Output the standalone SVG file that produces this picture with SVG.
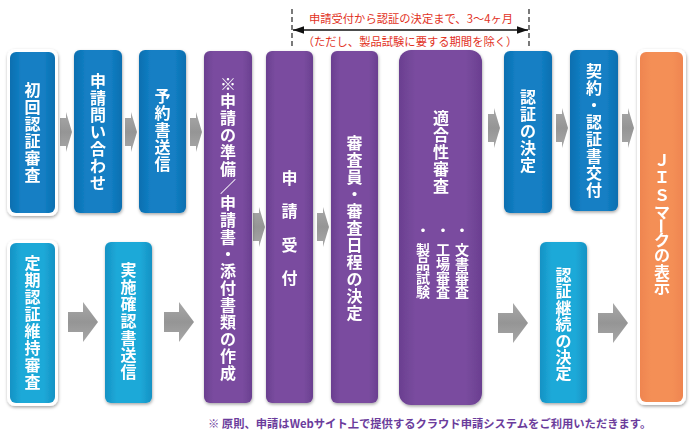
<svg xmlns="http://www.w3.org/2000/svg" width="700" height="438" viewBox="0 0 700 438">
<defs>
<style>
.t{font-family:"Noto Sans CJK JP","Noto Sans",sans-serif;font-weight:bold;fill:#fff;font-size:16px;text-anchor:middle}
.s{font-family:"Noto Sans CJK JP","Noto Sans",sans-serif;font-weight:bold;fill:#fff;font-size:14px;text-anchor:middle}
.red{font-family:"Noto Sans CJK JP","Noto Sans",sans-serif;fill:#e2321e;font-size:11.3px;text-anchor:middle}
.note{font-family:"Noto Sans CJK JP","Noto Sans",sans-serif;font-weight:bold;fill:#6b3c9c;font-size:11.3px}
.arr{fill:url(#ga)}
.dash{stroke:#222;stroke-width:1.2;stroke-dasharray:5,3;fill:none}
</style>
<linearGradient id="gb" x1="0" y1="0" x2="1" y2="0"><stop offset="0" stop-color="#0b6fb0"/><stop offset="0.25" stop-color="#137fc4"/><stop offset="0.75" stop-color="#137fc4"/><stop offset="1" stop-color="#0b6fb0"/></linearGradient>
<linearGradient id="gc" x1="0" y1="0" x2="1" y2="0"><stop offset="0" stop-color="#1492c4"/><stop offset="0.25" stop-color="#1ea9d8"/><stop offset="0.75" stop-color="#1ea9d8"/><stop offset="1" stop-color="#1492c4"/></linearGradient>
<linearGradient id="gp" x1="0" y1="0" x2="1" y2="0"><stop offset="0" stop-color="#6a3f90"/><stop offset="0.2" stop-color="#7a4c9f"/><stop offset="0.8" stop-color="#7a4c9f"/><stop offset="1" stop-color="#6a3f90"/></linearGradient>
<linearGradient id="go" x1="0" y1="0" x2="1" y2="0"><stop offset="0" stop-color="#ef8550"/><stop offset="0.25" stop-color="#f48f56"/><stop offset="0.75" stop-color="#f48f56"/><stop offset="1" stop-color="#ef8550"/></linearGradient>
<linearGradient id="ga" x1="0" y1="0" x2="0" y2="1"><stop offset="0" stop-color="#a8a8a8"/><stop offset="0.5" stop-color="#959595"/><stop offset="1" stop-color="#a8a8a8"/></linearGradient>
<filter id="sh" x="-20%" y="-10%" width="140%" height="120%"><feDropShadow dx="0.5" dy="1.5" stdDeviation="1.5" flood-color="#000" flood-opacity="0.35"/></filter>
<path id="sa" d="M0,6 H6 V0 L12,20 L6,40 V34 H0 Z"/>
<path id="la" d="M0,10 H15 V0 L30,20 L15,40 V30 H0 Z"/>
<marker id="ah" viewBox="0 0 10 10" refX="10" refY="5" markerWidth="7" markerHeight="7" orient="auto-start-reverse"><path d="M0,1.5 L10,5 L0,8.5 Z" fill="#111"/></marker>
</defs>
<rect width="700" height="438" fill="#fff"/>

<g id="connectors">
<use href="#sa" class="arr" x="60" y="112"/>
<use href="#sa" class="arr" x="125" y="112"/>
<use href="#sa" class="arr" x="190" y="112"/>
<use href="#sa" class="arr" x="253" y="207"/>
<use href="#sa" class="arr" x="317" y="207"/>
<use href="#sa" class="arr" x="488" y="108"/>
<use href="#sa" class="arr" x="556" y="108"/>
<use href="#sa" class="arr" x="622" y="108"/>
<use href="#la" class="arr" x="68" y="302"/>
<use href="#la" class="arr" x="164" y="302"/>
<use href="#la" class="arr" x="498" y="303"/>
<use href="#la" class="arr" x="598" y="303"/>
</g>

<g id="period">
<line class="dash" x1="292" y1="9" x2="292" y2="46"/>
<line class="dash" x1="529" y1="9" x2="529" y2="46"/>
<line x1="293" y1="30" x2="528" y2="30" stroke="#111" stroke-width="1.6" marker-start="url(#ah)" marker-end="url(#ah)"/>
<text class="red" x="411" y="23">申請受付から認証の決定まで、3～4ヶ月</text>
<text class="red" x="410" y="46">（ただし、製品試験に要する期間を除く）</text>
</g>

<g id="n1" filter="url(#sh)">
<rect x="7" y="49" width="51" height="167" rx="8" fill="#fff"/>
<rect x="10" y="52" width="45" height="161" rx="6" fill="url(#gb)"/>
<text class="t" x="32.5 32.5 32.5 32.5 32.5 32.5" y="95.5 112.5 129.5 146.5 163.5 180.5">初回認証審査</text>
</g>
<g id="n2" filter="url(#sh)">
<rect x="74" y="50" width="48" height="163" rx="6" fill="url(#gb)"/>
<text class="t" x="98 98 98 98 98 98 98" y="87 104 121 138 155 172 189">申請問い合わせ</text>
</g>
<g id="n3" filter="url(#sh)">
<rect x="139" y="50" width="47" height="163" rx="6" fill="url(#gb)"/>
<text class="t" x="162.5 162.5 162.5 162.5 162.5" y="102 119 136 153 170">予約書送信</text>
</g>
<g id="n4" filter="url(#sh)">
<rect x="204" y="51" width="48" height="352" rx="6" fill="url(#gp)"/>
<text class="t" x="228 228 228 228 228 228 228 228 228 228 228 228 228 228 228 228 228 228" y="89.5 106.5 123.5 140.5 157.5 174.5 191.5 208.5 225.5 242.5 259.5 276.5 293.5 310.5 327.5 344.5 361.5 378.5">※申請の準備／申請書・添付書類の作成</text>
</g>
<g id="n5" filter="url(#sh)">
<rect x="266" y="51" width="47" height="352" rx="6" fill="url(#gp)"/>
<text class="t" x="289.5 289.5 289.5 289.5" y="184 217 251 284">申請受付</text>
</g>
<g id="n6" filter="url(#sh)">
<rect x="331" y="51" width="47" height="352" rx="6" fill="url(#gp)"/>
<text class="t" x="354.5 354.5 354.5 354.5 354.5 354.5 354.5 354.5 354.5 354.5 354.5" y="149 166 183 200 217 234 251 268 285 302 319">審査員・審査日程の決定</text>
</g>
<g id="n7" filter="url(#sh)">
<rect x="399" y="50" width="83" height="355" rx="12" fill="url(#gp)"/>
<text class="t" x="441 441 441 441 441" y="124 141 158 175 192">適合性審査</text>
<text class="s" x="462 462 462 462 462" y="235 255 269 283 297">・文書審査</text>
<text class="s" x="443 443 443 443 443" y="235 255 269 283 297">・工場審査</text>
<text class="s" x="423 423 423 423 423" y="235 255 269 283 297">・製品試験</text>
</g>
<g id="n8" filter="url(#sh)">
<rect x="504" y="51" width="48" height="162" rx="6" fill="url(#gb)"/>
<text class="t" x="528 528 528 528 528" y="103 120 137 154 171">認証の決定</text>
</g>
<g id="n9" filter="url(#sh)">
<rect x="570" y="50" width="48" height="161" rx="6" fill="url(#gb)"/>
<text class="t" x="594 594 594 594 594 594 594 594" y="76.5 93.5 110.5 127.5 144.5 161.5 178.5 195.5">契約・認証書交付</text>
</g>
<g id="n10" filter="url(#sh)">
<rect x="637" y="49" width="49" height="356" rx="8" fill="#fff"/>
<rect x="640" y="52" width="43" height="350" rx="6" fill="url(#go)"/>
<text class="t" x="662 662 662 662" y="166 183 201 218">ＪＩＳマ</text>
<text class="t" x="662" y="226" dominant-baseline="central" transform="rotate(90 662 226)">ー</text>
<text class="t" x="662 662 662 662" y="246 261 278 293">クの表示</text>
</g>
<g id="n11" filter="url(#sh)">
<rect x="7" y="240" width="51" height="166" rx="8" fill="#fff"/>
<rect x="10" y="243" width="45" height="160" rx="6" fill="url(#gc)"/>
<text class="t" x="32.5 32.5 32.5 32.5 32.5 32.5 32.5 32.5" y="269 286 303 320 337 354 371 388">定期認証維持審査</text>
</g>
<g id="n12" filter="url(#sh)">
<rect x="105" y="242" width="47" height="161" rx="6" fill="url(#gc)"/>
<text class="t" x="128.5 128.5 128.5 128.5 128.5 128.5 128.5" y="276 293 310 327 344 361 378">実施確認書送信</text>
</g>
<g id="n13" filter="url(#sh)">
<rect x="540" y="242" width="47" height="161" rx="6" fill="url(#gc)"/>
<text class="t" x="563.5 563.5 563.5 563.5 563.5 563.5 563.5" y="281 297 314 330 347 363 379">認証継続の決定</text>
</g>

<text class="note" x="208" y="428">※ 原則、申請はWebサイト上で提供するクラウド申請システムをご利用いただきます。</text>
</svg>
